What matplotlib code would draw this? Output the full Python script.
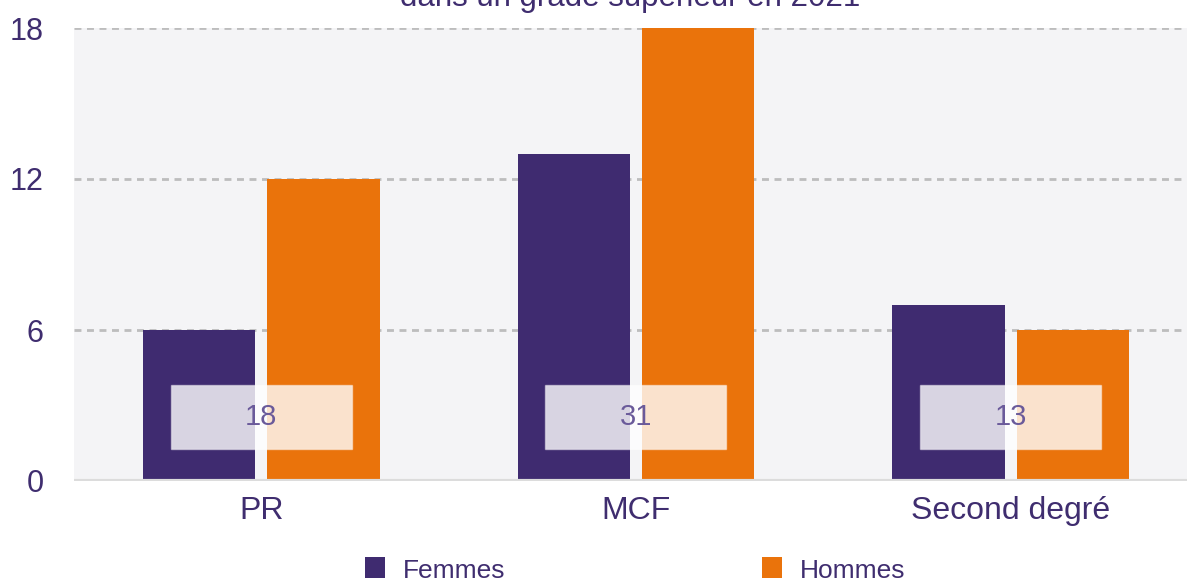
import matplotlib
matplotlib.use("Agg")
import matplotlib.pyplot as plt
from matplotlib.patches import Rectangle
import numpy as np

# data
categories = ["PR", "MCF", "Second degré"]
femmes = [6, 13, 7]
hommes = [12, 18, 6]
totals = [f + h for f, h in zip(femmes, hommes)]
y_ticks = [0, 6, 12, 18]

purple = "#3f2b70"
orange = "#ea730b"
text_col = "#3f2d6f"

plt.rcParams["font.family"] = ["Liberation Sans", "DejaVu Sans"]

W, H = 1187, 578
fig = plt.figure(figsize=(W / 100, H / 100), dpi=100)
ax = fig.add_axes([74 / W, 97 / H, 1124 / W, 453 / H])
ax.set_facecolor("#f4f4f6")

x = np.arange(len(categories))
bw = 0.30
ax.bar(x - 0.166, femmes, bw, color=purple, zorder=3)
ax.bar(x + 0.166, hommes, bw, color=orange, zorder=3)

# total labels in translucent boxes
for i, t in enumerate(totals):
    ax.add_patch(Rectangle((i - 0.242, 1.27), 0.483, 2.54, facecolor=(1, 1, 1, 0.8),
                           edgecolor=(1, 1, 1, 0.45), lw=1, zorder=4))
    ax.text(i, 2.54, str(t), ha="center", va="center", fontsize=21,
            color="#6a5a9a", zorder=5)

ax.set_xlim(-0.5, 2.5)
ax.set_ylim(0, 18)
ax.set_yticks(y_ticks)
ax.set_xticks(x)
ax.set_xticklabels(categories)
for yv in y_ticks[1:]:
    ax.axhline(yv, color="#bdbdbd", lw=2, ls=(0, (2.5, 2)), zorder=1)
ax.axhline(0, color="#dcdcdc", lw=3, zorder=4)
for s in ax.spines.values():
    s.set_visible(False)
ax.tick_params(axis="y", length=0, pad=22, labelsize=22, labelcolor=text_col)
ax.tick_params(axis="x", length=0, pad=11, labelsize=23, labelcolor=text_col)

fig.text(630 / W, 1 - 6 / H, "dans un grade supérieur en 2021", ha="center",
         va="baseline", fontsize=22.5, color=text_col)

# legend along the bottom edge
for lx, label, col in [(365, "Femmes", purple), (762, "Hommes", orange)]:
    fig.add_artist(Rectangle((lx / W, 0), 20 / W, 21 / H, transform=fig.transFigure,
                             facecolor=col, edgecolor="none"))
    fig.text((lx + 38) / W, 1 - 571 / H, label, ha="left", va="center",
             fontsize=19, color=text_col)

fig.savefig("out.png", dpi=100)
